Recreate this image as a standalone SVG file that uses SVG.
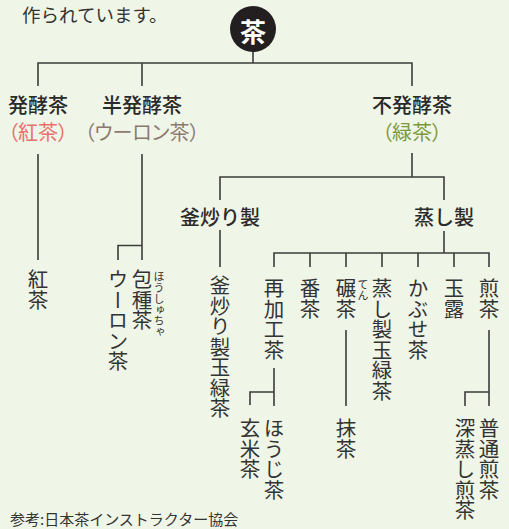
<svg xmlns="http://www.w3.org/2000/svg" width="509" height="529" viewBox="0 0 509 529">
<style>
text { font-family: "Noto Sans CJK JP", "Noto Sans", sans-serif; fill: #333; }
.lbl { font-size: 20px; font-weight: 500; text-anchor: middle; dominant-baseline: central; fill: #2a2a2a; }
.sub { font-size: 20px; text-anchor: middle; dominant-baseline: central; font-feature-settings: "palt"; }
.v { writing-mode: vertical-rl; font-size: 20.5px; }
.ruby { writing-mode: vertical-rl; font-size: 11px; }
#connectors path { stroke: #3d3d3d; stroke-width: 1.6; fill: none; }
</style>
<rect width="509" height="529" fill="#eff5e7"/>
<text x="22" y="13.5" font-size="18.5" dominant-baseline="central">作られています。</text>
<g id="connectors">
<path d="M253,52 V63"/>
<path d="M38,86 V63 H412 V86"/>
<path d="M142,63 V86"/>
<path d="M38,154 V260"/>
<path d="M142,154 V260"/>
<path d="M118,260 V245.5 H142"/>
<path d="M412,153 V177"/>
<path d="M220,200 V177 H444 V200"/>
<path d="M220,230 V267"/>
<path d="M444,231 V253"/>
<path d="M274,267 V253 H489 V267"/>
<path d="M310,253 V267 M346,253 V267 M382,253 V267 M418,253 V267 M454,253 V267"/>
<path d="M274,368 V406"/>
<path d="M250,405 V392 H274"/>
<path d="M346,330 V406"/>
<path d="M489,330 V406"/>
<path d="M465,406 V392 H489"/>
</g>
<g id="tea">
<circle cx="253" cy="29" r="23" fill="#231f20"/>
<text x="253" y="30" font-size="26" font-weight="700" text-anchor="middle" dominant-baseline="central" style="fill:#fff">茶</text>
</g>
<g id="hakkou">
<text class="lbl" x="38" y="104">発酵茶</text>
<text class="sub" x="38" y="131" style="fill:#e8706a">（紅茶）</text>
</g>
<g id="hanhakkou">
<text class="lbl" x="142" y="104">半発酵茶</text>
<text class="sub" x="142" y="131" style="fill:#8d7a6e">（ウーロン茶）</text>
</g>
<g id="fuhakkou">
<text class="lbl" x="412" y="104">不発酵茶</text>
<text class="sub" x="412" y="131" style="fill:#7b9a3e">（緑茶）</text>
</g>
<g id="kamairi"><text class="lbl" x="220" y="216">釜炒り製</text></g>
<g id="mushi"><text class="lbl" x="444" y="216">蒸し製</text></g>
<g id="koucha"><text class="v" x="38" y="269">紅茶</text></g>
<g id="oolong"><text class="v" x="118" y="269">ウーロン茶</text></g>
<g id="houshucha"><text class="v" x="142" y="269">包種茶</text><text class="ruby" x="159" y="271">ほうしゅちゃ</text></g>
<g id="kamairi-tamaryokucha"><text class="v" x="220" y="275">釜炒り製玉緑茶</text></g>
<g id="saikakoucha"><text class="v" x="274" y="278">再加工茶</text></g>
<g id="bancha"><text class="v" x="310" y="278">番茶</text></g>
<g id="tencha"><text class="v" x="346" y="278">碾茶</text><text class="ruby" x="363" y="279">てん</text></g>
<g id="mushi-tamaryokucha"><text class="v" x="382" y="278">蒸し製玉緑茶</text></g>
<g id="kabusecha"><text class="v" x="418" y="278">かぶせ茶</text></g>
<g id="gyokuro"><text class="v" x="454" y="278">玉露</text></g>
<g id="sencha"><text class="v" x="489" y="278">煎茶</text></g>
<g id="genmaicha"><text class="v" x="250" y="418">玄米茶</text></g>
<g id="houjicha"><text class="v" x="274" y="418">ほうじ茶</text></g>
<g id="matcha"><text class="v" x="346" y="418">抹茶</text></g>
<g id="fukamushi"><text class="v" x="465" y="418">深蒸し煎茶</text></g>
<g id="futsuu"><text class="v" x="489" y="418">普通煎茶</text></g>
<text x="10" y="518" font-size="15" dominant-baseline="central">参考:日本茶インストラクター協会</text>
</svg>
